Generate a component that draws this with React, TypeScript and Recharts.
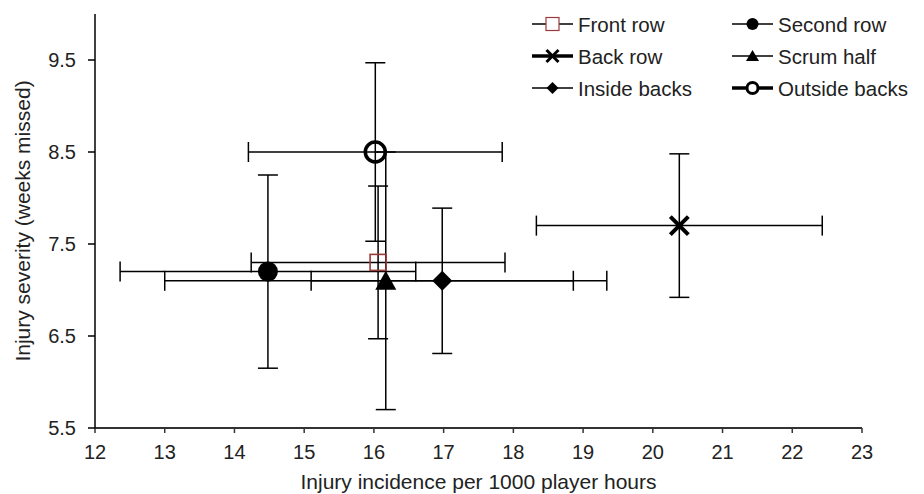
import React from 'react'
import {
  ScatterChart,
  Scatter,
  XAxis,
  YAxis,
  ErrorBar,
  Legend,
} from 'recharts'

// positions: mean incidence (x), mean severity (y), +/- errors
const frontRow = [{ x: 16.06, y: 7.3, ex: 1.82, ey: 0.83 }]
const secondRow = [{ x: 14.48, y: 7.2, ex: 2.12, ey: 1.05 }]
const backRow = [{ x: 20.38, y: 7.7, ex: 2.05, ey: 0.78 }]
const scrumHalf = [{ x: 16.17, y: 7.1, ex: 3.17, ey: 1.4 }]
const insideBacks = [{ x: 16.98, y: 7.1, ex: 1.88, ey: 0.79 }]
const outsideBacks = [{ x: 16.02, y: 8.5, ex: 1.82, ey: 0.97 }]

const xTicks = [12, 13, 14, 15, 16, 17, 18, 19, 20, 21, 22, 23]
const yTicks = [5.5, 6.5, 7.5, 8.5, 9.5]

const FONT = '"Liberation Sans", Arial, sans-serif'
const TEXT = '#222'
const FRONT_COLOR = '#9b3a3a'

type ShapeProps = { cx?: number; cy?: number }

const SquareShape = ({ cx = 0, cy = 0 }: ShapeProps) => (
  <rect x={cx - 8} y={cy - 8} width={16} height={16} fill="none" stroke={FRONT_COLOR} strokeWidth={1.6} />
)
const DotShape = ({ cx = 0, cy = 0 }: ShapeProps) => <circle cx={cx} cy={cy} r={10} fill="#000" />
const CrossShape = ({ cx = 0, cy = 0 }: ShapeProps) => (
  <path d={`M${cx - 9},${cy - 9}L${cx + 9},${cy + 9}M${cx - 9},${cy + 9}L${cx + 9},${cy - 9}`} stroke="#000" strokeWidth={4} />
)
const TriangleShape = ({ cx = 0, cy = 0 }: ShapeProps) => (
  <path d={`M${cx},${cy - 10}L${cx + 10.5},${cy + 9}L${cx - 10.5},${cy + 9}Z`} fill="#000" />
)
const DiamondShape = ({ cx = 0, cy = 0 }: ShapeProps) => (
  <path d={`M${cx},${cy - 10}L${cx + 10},${cy}L${cx},${cy + 10}L${cx - 10},${cy}Z`} fill="#000" />
)
const RingShape = ({ cx = 0, cy = 0 }: ShapeProps) => (
  <circle cx={cx} cy={cy} r={10} fill="none" stroke="#000" strokeWidth={3.5} />
)

const legendItems = [
  { name: 'Front row', col: 0, row: 0, thick: false, kind: 'square' },
  { name: 'Back row', col: 0, row: 1, thick: true, kind: 'cross' },
  { name: 'Inside backs', col: 0, row: 2, thick: false, kind: 'diamond' },
  { name: 'Second row', col: 1, row: 0, thick: false, kind: 'dot' },
  { name: 'Scrum half', col: 1, row: 1, thick: false, kind: 'triangle' },
  { name: 'Outside backs', col: 1, row: 2, thick: true, kind: 'ring' },
]

function legendMarker(kind: string, cx: number, cy: number) {
  switch (kind) {
    case 'square':
      return <rect x={cx - 6.5} y={cy - 6.5} width={13} height={13} fill="#fff" stroke={FRONT_COLOR} strokeWidth={1.2} />
    case 'cross':
      return <path d={`M${cx - 6},${cy - 6}L${cx + 6},${cy + 6}M${cx - 6},${cy + 6}L${cx + 6},${cy - 6}`} stroke="#000" strokeWidth={3} />
    case 'diamond':
      return <path d={`M${cx},${cy - 6}L${cx + 6},${cy}L${cx},${cy + 6}L${cx - 6},${cy}Z`} fill="#000" />
    case 'dot':
      return <circle cx={cx} cy={cy} r={6} fill="#000" />
    case 'triangle':
      return <path d={`M${cx},${cy - 6}L${cx + 6.5},${cy + 5}L${cx - 6.5},${cy + 5}Z`} fill="#000" />
    default:
      return <circle cx={cx} cy={cy} r={5.5} fill="#fff" stroke="#000" strokeWidth={3} />
  }
}

const renderLegend = () => (
  <svg width={400} height={110} style={{ display: 'block' }}>
    {legendItems.map((it) => {
      const x0 = 12 + it.col * 200
      const y = 24 + it.row * 32
      return (
        <g key={it.name}>
          <line x1={x0} x2={x0 + 41} y1={y} y2={y} stroke="#000" strokeWidth={it.thick ? 3.5 : 1.5} />
          {legendMarker(it.kind, x0 + 20.5, y)}
          <text x={x0 + 46} y={y} dominantBaseline="central" fontSize={20.5} fontFamily={FONT} fill={TEXT}>
            {it.name}
          </text>
        </g>
      )
    })}
  </svg>
)

const XTitle = ({ viewBox }: any) => (
  <text x={viewBox.x + viewBox.width / 2} y={viewBox.y + 53} textAnchor="middle" dominantBaseline="central" fontSize={21} fontFamily={FONT} fill={TEXT}>
    Injury incidence per 1000 player hours
  </text>
)

const YTitle = ({ viewBox }: any) => {
  const cx = 14
  const cy = viewBox.y + viewBox.height / 2
  return (
    <text x={cx} y={cy} transform={`rotate(-90 ${cx} ${cy})`} textAnchor="middle" dominantBaseline="central" fontSize={21} fontFamily={FONT} fill={TEXT}>
      Injury severity (weeks missed)
    </text>
  )
}

const bar = { stroke: '#000', strokeWidth: 1.5, width: 10 }

export default function App() {
  return (
    <div style={{ width: 916, height: 486, fontFamily: FONT }}>
      <ScatterChart width={916} height={486} margin={{ top: 6, right: 62, bottom: 6, left: 0 }}>
        <XAxis
          type="number"
          dataKey="x"
          domain={[12, 23]}
          ticks={xTicks}
          allowDataOverflow
          height={60}
          tickSize={5}
          tickMargin={12}
          axisLine={{ stroke: '#333', strokeWidth: 2 }}
          tickLine={{ stroke: '#333', strokeWidth: 1.5 }}
          tick={{ fontSize: 20, fill: TEXT, fontFamily: FONT }}
          label={<XTitle />}
        />
        <YAxis
          type="number"
          dataKey="y"
          domain={[5.5, 10]}
          ticks={yTicks}
          allowDataOverflow
          width={87}
          tickSize={7}
          tickMargin={12}
          axisLine={{ stroke: '#000', strokeWidth: 1.5 }}
          tickLine={{ stroke: '#000', strokeWidth: 1.5 }}
          tick={{ fontSize: 20, fill: TEXT, fontFamily: FONT }}
          tickFormatter={(v: number) => v.toFixed(1)}
          label={<YTitle />}
        />
        <Legend
          content={renderLegend}
          layout="horizontal"
          verticalAlign="middle"
          align="center"
          wrapperStyle={{ left: 512, top: -8, width: 400, height: 110 }}
        />
        <Scatter name="Front row" data={frontRow} shape={<SquareShape />} isAnimationActive={false}>
          <ErrorBar dataKey="ex" direction="x" {...bar} />
          <ErrorBar dataKey="ey" direction="y" {...bar} />
        </Scatter>
        <Scatter name="Second row" data={secondRow} shape={<DotShape />} isAnimationActive={false}>
          <ErrorBar dataKey="ex" direction="x" {...bar} />
          <ErrorBar dataKey="ey" direction="y" {...bar} />
        </Scatter>
        <Scatter name="Back row" data={backRow} shape={<CrossShape />} isAnimationActive={false}>
          <ErrorBar dataKey="ex" direction="x" {...bar} />
          <ErrorBar dataKey="ey" direction="y" {...bar} />
        </Scatter>
        <Scatter name="Scrum half" data={scrumHalf} shape={<TriangleShape />} isAnimationActive={false}>
          <ErrorBar dataKey="ex" direction="x" {...bar} />
          <ErrorBar dataKey="ey" direction="y" {...bar} />
        </Scatter>
        <Scatter name="Inside backs" data={insideBacks} shape={<DiamondShape />} isAnimationActive={false}>
          <ErrorBar dataKey="ex" direction="x" {...bar} />
          <ErrorBar dataKey="ey" direction="y" {...bar} />
        </Scatter>
        <Scatter name="Outside backs" data={outsideBacks} shape={<RingShape />} isAnimationActive={false}>
          <ErrorBar dataKey="ex" direction="x" {...bar} />
          <ErrorBar dataKey="ey" direction="y" {...bar} />
        </Scatter>
      </ScatterChart>
    </div>
  )
}
